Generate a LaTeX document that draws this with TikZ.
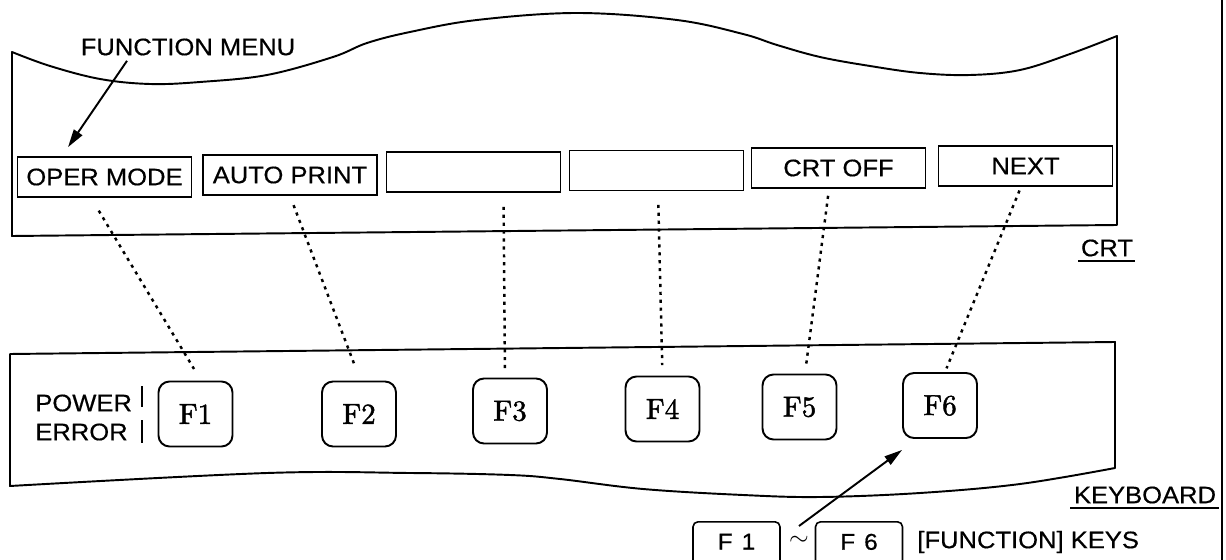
\documentclass[tikz,border=0pt]{standalone}
\usepackage{fontspec}
\setsansfont{Liberation Sans}[FakeStretch=1.07, FakeBold=0.5]
\newfontfamily\keyfont{lmroman10-regular.otf}[FakeBold=1.6]
\usetikzlibrary{arrows.meta}

\begin{document}
\begin{tikzpicture}[x=0.02cm, y=-0.02cm,
    outline/.style={line width=1.1pt, line join=round},
    menubox/.style={draw, line width=0.95pt, minimum width=3.48cm, minimum height=0.8cm, inner sep=0pt, font=\sffamily\fontsize{13.6}{16}\selectfont},
    fkey/.style={draw, line width=1.1pt, rounded corners=0.22cm, minimum width=1.48cm, minimum height=1.3cm, inner sep=0pt, font=\keyfont\fontsize{16.5}{18}\selectfont},
    lbl/.style={inner sep=0pt, font=\sffamily\fontsize{13.6}{16}\selectfont},
    keycap/.style={draw, line width=0.9pt, rounded corners=0.1cm, anchor=north, minimum width=1.74cm, inner ysep=0.24cm, text depth=1.5cm, font=\sffamily\fontsize{13}{15}\selectfont},
    dotline/.style={line width=1.4pt, dash pattern=on 1.8pt off 2.7pt},
    pointer/.style={line width=1.1pt, -{Triangle[length=0.36cm,width=0.2cm]}}]

  \useasboundingbox (0,0) rectangle (1226,560);

  % CRT screen
  \draw[outline] plot[smooth, tension=0.6] coordinates {(12,52) (50,66) (100,79) (150,84) (200,82) (267,75) (333,57) (367,43) (410,32) (477,20) (577,13) (677,20) (743,34) (777,45) (820,57) (870,66) (920,73) (970,75) (1020,70) (1070,54) (1117,36)}
    -- (1117,225) -- (12,236) -- cycle;

  % keyboard panel
  \draw[outline] (10,354) -- (1115,342) -- (1115,468)
    -- plot[smooth, tension=0.6] coordinates {(1115,468) (1020,484) (920,493) (820,497) (743,495) (643,489) (560,479) (510,475) (410,473) (267,473) (10,486)} -- cycle;

  % page edge
  \draw[line width=0.8pt] (1222,0) -- (1222,560);

  % function menu on the CRT
  \node[menubox] (m1) at (104.5,177) {OPER MODE};
  \node[menubox] (m2) at (290,175) {AUTO PRINT};
  \node[menubox] (m3) at (473.5,172) {};
  \node[menubox] (m4) at (656.5,170.5) {};
  \node[menubox] (m5) at (838.5,168) {CRT OFF};
  \node[menubox] (m6) at (1025.5,166) {NEXT};

  % function keys
  \node[fkey] (f1) at (195.5,414) {F1};
  \node[fkey] (f2) at (359,414) {F2};
  \node[fkey] (f3) at (510,411) {F3};
  \node[fkey] (f4) at (662.5,409) {F4};
  \node[fkey] (f5) at (799.5,407) {F5};
  \node[fkey] (f6) at (940,405.5) {F6};

  % lamps
  \node[lbl, anchor=west] (power) at (35,403) {POWER};
  \node[lbl, anchor=west] (error) at (35,432) {ERROR};
  \draw[line width=0.8pt] (142,386) -- (142,407);
  \draw[line width=0.8pt] (142,420) -- (142,443);

  % labels
  \node[lbl] (fmenu) at (188,47) {FUNCTION MENU};
  \node[lbl] (crt) at (1107,248) {CRT};
  \draw[line width=1.2pt] (1078,261) -- (1135,261);
  \node[lbl] (kbd) at (1145,495) {KEYBOARD};
  \draw[line width=1.2pt] (1070,508) -- (1219,508);

  % key legend
  \node[keycap] (k1) at (736.5,521) {F\hspace{0.18cm}1};
  \node[lbl] (tilde) at (799,541) {$\sim$};
  \node[keycap] (k6) at (859,521) {F\hspace{0.18cm}6};
  \node[lbl, anchor=west] (fkeys) at (917,542) {[FUNCTION] KEYS};

  % menu item to key
  \foreach \a/\b/\sa/\sb/\ha/\hb in {m1/f1/-0.27/0.11/0.3/0.27, m2/f2/0/0.03/0.2/0.34, m3/f3/0.6/-0.1/0.28/0.17, m4/f4/0.03/0/0.27/0.21, m5/f5/-0.19/0.11/0.14/0.17, m6/f6/-0.09/0.1/0.08/0.08}
    \draw[dotline, shorten <=\ha cm, shorten >=\hb cm] ([xshift=\sa cm]\a.south) -- ([xshift=\sb cm]\b.north);

  % pointers
  \draw[pointer] ([xshift=-1.22cm,yshift=-0.1cm]fmenu.south) -- ([xshift=-0.73cm,yshift=0.18cm]m1.north);
  \draw[pointer] ([yshift=0.2cm]tilde.north) -- ([yshift=-0.22cm]f6.south west);

\end{tikzpicture}
\end{document}
